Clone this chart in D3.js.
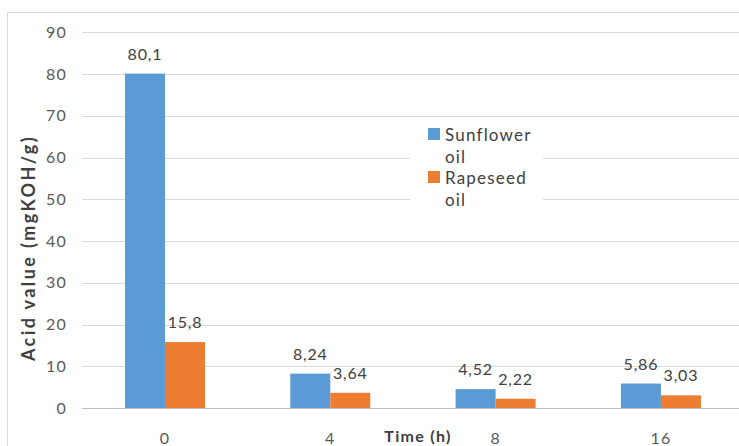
<!DOCTYPE html>
<html>
<head>
<meta charset="utf-8">
<script src="https://cdn.jsdelivr.net/npm/d3@7"></script>
<style>
  html, body { margin: 0; padding: 0; background: #fff; }
  svg { display: block; font-family: Lato, "Open Sans", sans-serif; }
</style>
</head>
<body>
<svg id="chart" width="739" height="446"></svg>
<script>
// Acid value of the oils over reaction time
const categories = ["0", "4", "8", "16"];
const sunflower = [80.1, 8.24, 4.52, 5.86];
const rapeseed = [15.8, 3.64, 2.22, 3.03];
const seriesNames = ["Sunflower oil", "Rapeseed oil"];
const yTicks = [0, 10, 20, 30, 40, 50, 60, 70, 80, 90];

const colors = ["#5B9BD5", "#ED7D31"];
const series = [sunflower, rapeseed];

const svg = d3.select("#chart");
const W = 739, H = 446;

// chart-area border (left and top edges visible)
svg.append("line").attr("x1", 7.5).attr("x2", 7.5).attr("y1", 12).attr("y2", H)
  .attr("stroke", "#D9D9D9").attr("stroke-width", 1);
svg.append("line").attr("x1", 7.5).attr("x2", W).attr("y1", 12.5).attr("y2", 12.5)
  .attr("stroke", "#D9D9D9").attr("stroke-width", 1);

const x0 = d3.scaleBand().domain(categories).range([82.3, 743.6])
  .paddingInner(0.516).paddingOuter(0.258);
const x1 = d3.scaleBand().domain([0, 1]).range([0, x0.bandwidth()]);
const y = d3.scaleLinear().domain([0, 90]).range([408, 32.3]);

// horizontal gridlines
svg.append("g").selectAll("line").data(yTicks.filter(d => d > 0)).join("line")
  .attr("x1", 82).attr("x2", 744)
  .attr("y1", d => Math.round(y(d)) + 0.5).attr("y2", d => Math.round(y(d)) + 0.5)
  .attr("stroke", "#D9D9D9").attr("stroke-width", 1);

// y tick labels
const yAxis = d3.axisLeft(y).tickValues(yTicks).tickSize(0).tickPadding(0);
const gy = svg.append("g").attr("transform", "translate(67,0)").call(yAxis);
gy.select(".domain").remove();
gy.selectAll("text").attr("font-size", 16).attr("fill", "#595959")
  .attr("font-family", "Lato, sans-serif").style("letter-spacing", "1.2px");

// bars
const groups = svg.append("g").selectAll("g").data(categories).join("g")
  .attr("transform", d => `translate(${x0(d)},0)`);

groups.selectAll("rect")
  .data((c, i) => series.map((s, k) => ({ k, v: s[i] })))
  .join("rect")
  .attr("x", d => x1(d.k))
  .attr("width", x1.bandwidth())
  .attr("y", d => y(d.v))
  .attr("height", d => y(0) - y(d.v))
  .attr("fill", d => colors[d.k]);

// value labels
groups.selectAll("text.val")
  .data((c, i) => series.map((s, k) => ({ k, v: s[i] })))
  .join("text").attr("class", "val")
  .attr("x", d => x1(d.k) + x1.bandwidth() / 2)
  .attr("y", d => y(d.v) - 14)
  .attr("text-anchor", "middle")
  .attr("font-size", 16).attr("fill", "#404040")
  .style("letter-spacing", "0.8px")
  .text(d => String(d.v).replace(".", ","));

// x axis line
svg.append("line").attr("x1", 82).attr("x2", 744)
  .attr("y1", 408.5).attr("y2", 408.5)
  .attr("stroke", "#BFBFBF").attr("stroke-width", 1);

// x tick labels
const xAxis = d3.axisBottom(x0).tickSize(0).tickPadding(0);
const gx = svg.append("g").attr("transform", "translate(0,433)").call(xAxis);
gx.select(".domain").remove();
gx.selectAll("text").attr("font-size", 16).attr("fill", "#595959")
  .attr("font-family", "Lato, sans-serif").style("letter-spacing", "1.2px");

// axis titles
svg.append("text").attr("x", 418).attr("y", 442)
  .attr("text-anchor", "middle").attr("font-size", 16).attr("font-weight", "bold")
  .attr("fill", "#404040").style("letter-spacing", "1.3px")
  .text("Time (h)");

svg.append("text")
  .attr("transform", "translate(35,248) rotate(-90)")
  .attr("text-anchor", "middle").attr("font-size", 18).attr("font-weight", "bold")
  .attr("fill", "#404040").style("letter-spacing", "2.4px")
  .text("Acid value (mgKOH/g)");

// legend
const legend = svg.append("g");
legend.append("rect").attr("x", 410).attr("y", 118).attr("width", 133).attr("height", 102)
  .attr("fill", "#fff");
const legendItems = legend.selectAll("g").data(seriesNames).join("g")
  .attr("transform", (d, i) => `translate(428,${128 + i * 43})`);
legendItems.append("rect").attr("width", 12).attr("height", 12)
  .attr("fill", (d, i) => colors[i]);
legendItems.each(function(name) {
  const words = name.split(" ");
  const t = d3.select(this).append("text")
    .attr("font-size", 17).attr("fill", "#404040")
    .style("letter-spacing", "1.2px");
  words.forEach((w, j) => {
    t.append("tspan").attr("x", 17).attr("y", 13 + j * 22).text(w);
  });
});
</script>
</body>
</html>
